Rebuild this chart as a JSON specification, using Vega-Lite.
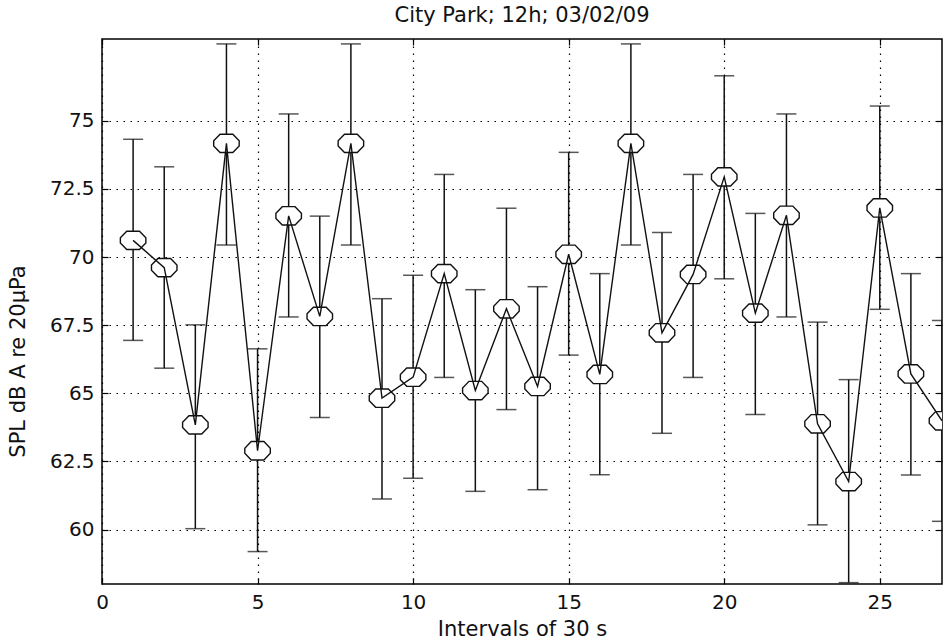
{
  "$schema": "https://vega.github.io/schema/vega-lite/v6.json",
  "width": 840,
  "height": 545,
  "autosize": {"type": "none"},
  "padding": {"left": 102, "top": 39, "right": 1, "bottom": 57},
  "background": "white",
  "config": {
    "view": {"stroke": "black", "strokeWidth": 1.5},
    "font": "DejaVu Sans",
    "axis": {
      "labelFont": "DejaVu Sans",
      "titleFont": "DejaVu Sans",
      "labelFontSize": 20,
      "titleFontSize": 21,
      "labelColor": "#111",
      "titleColor": "#111",
      "titleFontWeight": "normal",
      "domain": false,
      "tickColor": "black",
      "tickWidth": 1.2,
      "tickSize": -6,
      "labelPadding": 14,
      "gridColor": "black",
      "gridWidth": 1.2,
      "gridOpacity": 1,
      "gridDash": [1.5, 5.5]
    },
    "title": {"font": "DejaVu Sans", "fontSize": 21, "fontWeight": "normal", "color": "#111", "offset": 12}
  },
  "title": "City Park; 12h; 03/02/09",
  "data": {
    "values": [
      {"x": 1, "y": 70.61, "lo": 66.94, "hi": 74.32},
      {"x": 2, "y": 69.61, "lo": 65.92, "hi": 73.31},
      {"x": 3, "y": 63.84, "lo": 60.03, "hi": 67.51},
      {"x": 4, "y": 74.17, "lo": 70.44, "hi": 77.82},
      {"x": 5, "y": 62.89, "lo": 59.19, "hi": 66.63},
      {"x": 6, "y": 71.51, "lo": 67.80, "hi": 75.25},
      {"x": 7, "y": 67.82, "lo": 64.11, "hi": 71.50},
      {"x": 8, "y": 74.17, "lo": 70.44, "hi": 77.82},
      {"x": 9, "y": 64.82, "lo": 61.12, "hi": 68.47},
      {"x": 10, "y": 65.59, "lo": 61.88, "hi": 69.33},
      {"x": 11, "y": 69.39, "lo": 65.58, "hi": 73.03},
      {"x": 12, "y": 65.10, "lo": 61.40, "hi": 68.80},
      {"x": 13, "y": 68.10, "lo": 64.40, "hi": 71.79},
      {"x": 14, "y": 65.25, "lo": 61.46, "hi": 68.91},
      {"x": 15, "y": 70.10, "lo": 66.40, "hi": 73.84},
      {"x": 16, "y": 65.69, "lo": 62.01, "hi": 69.39},
      {"x": 17, "y": 74.17, "lo": 70.44, "hi": 77.82},
      {"x": 18, "y": 67.22, "lo": 63.53, "hi": 70.90},
      {"x": 19, "y": 69.36, "lo": 65.58, "hi": 73.03},
      {"x": 20, "y": 72.94, "lo": 69.20, "hi": 76.65},
      {"x": 21, "y": 67.94, "lo": 64.22, "hi": 71.60},
      {"x": 22, "y": 71.53, "lo": 67.80, "hi": 75.25},
      {"x": 23, "y": 63.88, "lo": 60.17, "hi": 67.61},
      {"x": 24, "y": 61.76, "lo": 58.05, "hi": 65.50},
      {"x": 25, "y": 71.80, "lo": 68.08, "hi": 75.54},
      {"x": 26, "y": 65.71, "lo": 62.00, "hi": 69.39},
      {"x": 27, "y": 63.99, "lo": 60.30, "hi": 67.67}
    ]
  },
  "layer": [
    {
      "mark": {"type": "rule", "color": "#111", "strokeWidth": 1.5, "clip": true},
      "encoding": {
        "x": {
          "field": "x", "type": "quantitative",
          "scale": {"domain": [0, 27], "nice": false, "zero": false},
          "axis": {"values": [0, 5, 10, 15, 20, 25], "format": "d", "title": "Intervals of 30 s", "titlePadding": 6, "labelFlush": false}
        },
        "y": {
          "field": "lo", "type": "quantitative",
          "scale": {"domain": [58, 78], "nice": false, "zero": false},
          "axis": {"values": [60, 62.5, 65, 67.5, 70, 72.5, 75], "format": ".1~f", "title": "SPL dB A re 20µPa", "titleX": -84, "titleY": 322, "titleBaseline": "middle", "titleAlign": "center", "labelFlush": false}
        },
        "y2": {"field": "hi"}
      }
    },
    {
      "mark": {"type": "tick", "orient": "horizontal", "color": "#111", "size": 20, "thickness": 1.5, "clip": true},
      "encoding": {
        "x": {"field": "x", "type": "quantitative", "axis": null},
        "y": {"field": "lo", "type": "quantitative", "axis": null}
      }
    },
    {
      "mark": {"type": "tick", "orient": "horizontal", "color": "#111", "size": 20, "thickness": 1.5, "clip": true},
      "encoding": {
        "x": {"field": "x", "type": "quantitative", "axis": null},
        "y": {"field": "hi", "type": "quantitative", "axis": null}
      }
    },
    {
      "mark": {"type": "point", "shape": "M -0.5,-0.72 L 0.5,-0.72 L 1,-0.2 L 1,0.2 L 0.5,0.72 L -0.5,0.72 L -1,0.2 L -1,-0.2 Z", "size": 650, "filled": false, "fill": "white", "fillOpacity": 1, "stroke": "#111", "strokeWidth": 1.4, "opacity": 1, "clip": true},
      "encoding": {
        "x": {"field": "x", "type": "quantitative", "axis": null},
        "y": {"field": "y", "type": "quantitative", "axis": null}
      }
    },
    {
      "mark": {"type": "line", "color": "#111", "strokeWidth": 1.4, "clip": true},
      "encoding": {
        "x": {"field": "x", "type": "quantitative", "axis": null},
        "y": {"field": "y", "type": "quantitative", "axis": null}
      }
    },
    {
      "mark": {"type": "point", "opacity": 0},
      "encoding": {
        "x": {"field": "x", "type": "quantitative", "axis": {"orient": "top", "values": [0, 5, 10, 15, 20, 25], "labels": false, "grid": false, "title": null}},
        "y": {"field": "y", "type": "quantitative", "axis": {"orient": "right", "values": [60, 62.5, 65, 67.5, 70, 72.5, 75], "labels": false, "grid": false, "title": null}}
      }
    }
  ],
  "resolve": {"axis": {"x": "independent", "y": "independent"}}
}
